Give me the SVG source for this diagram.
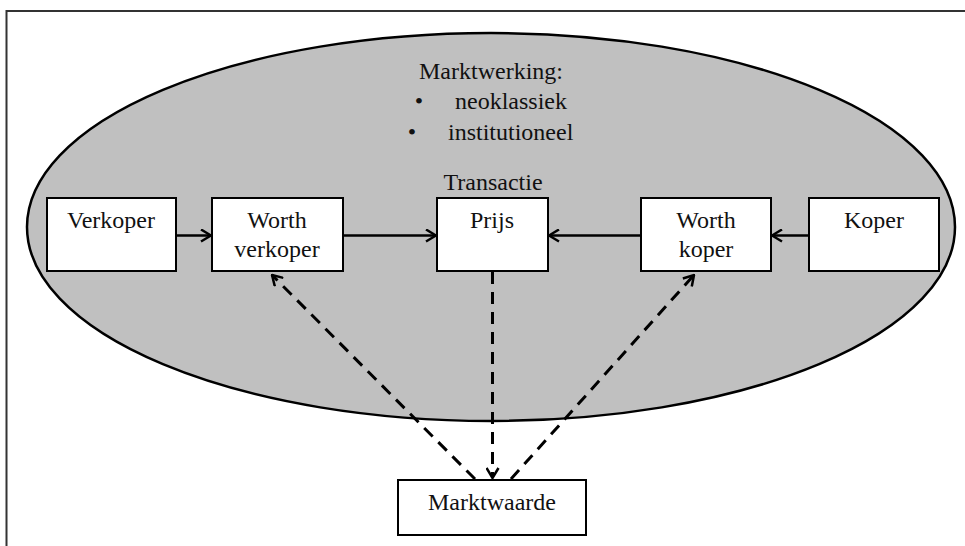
<svg xmlns="http://www.w3.org/2000/svg" width="965" height="546" viewBox="0 0 965 546">
<style>
  .t { font-size: 24px; fill: #111; }
  .c { text-anchor: middle; }
  .box { fill: #fff; stroke: #000; stroke-width: 2; }
  .solid { stroke: #000; stroke-width: 2.5; fill: none; marker-end: url(#arr); }
  .dash { stroke: #000; stroke-width: 3; fill: none; stroke-dasharray: 12 8; marker-end: url(#arr); }
</style>
<defs>
  <marker id="arr" viewBox="0 0 12 14" refX="11" refY="7" markerWidth="12" markerHeight="14" markerUnits="userSpaceOnUse" orient="auto">
    <path d="M1,1 L11,7 L1,13" fill="none" stroke="#000" stroke-width="2.5" stroke-dasharray="none"/>
  </marker>
</defs>
<rect width="965" height="546" fill="#fff"/>
<path d="M6.5,546 L6.5,11 L965,11" fill="none" stroke="#333" stroke-width="2"/>
<g style="font-family: 'Liberation Serif', 'DejaVu Serif', 'Times New Roman', Times, serif">
<g id="market">
  <ellipse cx="491" cy="227" rx="464" ry="194" fill="#c0c0c0" stroke="#000" stroke-width="2.5"/>
  <text class="t c" x="491" y="79">Marktwerking:</text>
  <text class="t c" x="419" y="109">•</text>
  <text class="t" x="455" y="109">neoklassiek</text>
  <text class="t c" x="412" y="140">•</text>
  <text class="t" x="448" y="140">institutioneel</text>
</g>
<g id="verkoper">
  <rect class="box" x="47" y="198" width="129" height="73"/>
  <text class="t c" x="111" y="228">Verkoper</text>
</g>
<g id="worth-verkoper">
  <rect class="box" x="212" y="198" width="131" height="73"/>
  <text class="t c" x="277" y="228">Worth</text>
  <text class="t c" x="277" y="257">verkoper</text>
</g>
<g id="prijs">
  <text class="t c" x="493" y="190">Transactie</text>
  <rect class="box" x="437" y="198" width="111" height="73"/>
  <text class="t c" x="492" y="228">Prijs</text>
</g>
<g id="worth-koper">
  <rect class="box" x="641" y="198" width="130" height="73"/>
  <text class="t c" x="706" y="228">Worth</text>
  <text class="t c" x="706" y="257">koper</text>
</g>
<g id="koper">
  <rect class="box" x="809" y="198" width="130" height="73"/>
  <text class="t c" x="874" y="228">Koper</text>
</g>
<g id="marktwaarde">
  <rect class="box" x="398" y="480" width="188" height="55"/>
  <text class="t c" x="492" y="510">Marktwaarde</text>
</g>
</g>
<g id="connectors">
  <line class="solid" x1="176" y1="235.5" x2="211" y2="235.5"/>
  <line class="solid" x1="343" y1="235.5" x2="436" y2="235.5"/>
  <line class="solid" x1="641" y1="235.5" x2="549" y2="235.5"/>
  <line class="solid" x1="809" y1="235.5" x2="772" y2="235.5"/>
  <line class="dash" x1="475" y1="479" x2="272" y2="275"/>
  <line class="dash" x1="492.5" y1="272" x2="492.5" y2="478"/>
  <line class="dash" x1="511" y1="479" x2="694" y2="275"/>
</g>
</svg>
